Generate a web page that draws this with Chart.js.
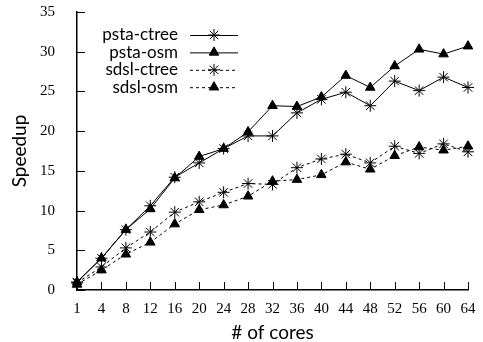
<!DOCTYPE html>
<html>
<head>
<meta charset="utf-8">
<script src="https://cdn.jsdelivr.net/npm/chart.js@4/dist/chart.umd.min.js"></script>
<style>
    html, body { margin: 0; padding: 0; background: #fff; }
    #wrap { width: 483px; height: 342px; }
</style>
</head>
<body>
<div id="wrap"><canvas id="speedupChart" width="483" height="342"></canvas></div>
<script>
const cores = ['1', '4', '8', '12', '16', '20', '24', '28', '32', '36', '40', '44', '48', '52', '56', '60', '64'];
const pstaCtree = [1.0, 4.0, 7.6, 10.6, 14.2, 16.0, 17.8, 19.4, 19.4, 22.3, 24.0, 24.9, 23.2, 26.3, 25.1, 26.8, 25.5];
const pstaOsm = [1.0, 4.0, 7.6, 10.2, 14.1, 16.8, 17.8, 19.9, 23.2, 23.1, 24.3, 27.0, 25.5, 28.2, 30.3, 29.7, 30.7];
const sdslCtree = [0.9, 2.9, 5.3, 7.3, 9.8, 11.1, 12.3, 13.4, 13.3, 15.4, 16.5, 17.1, 16.0, 18.1, 17.2, 18.4, 17.4];
const sdslOsm = [0.7, 2.5, 4.5, 6.0, 8.3, 10.1, 10.7, 11.8, 13.7, 13.9, 14.5, 16.1, 15.2, 16.9, 18.0, 17.6, 18.1];
const yTicks = [0, 5, 10, 15, 20, 25, 30, 35];

const serif = '"Liberation Serif", "Times New Roman", serif';
const sans = 'Lato, "Open Sans", sans-serif';

// tick marks drawn on the inside of the axes
const inwardTicks = {
    id: 'inwardTicks',
    beforeDatasetsDraw(chart) {
        const { ctx, chartArea, scales: { x, y } } = chart;
        ctx.save();
        ctx.strokeStyle = '#000';
        ctx.lineWidth = 1;
        ctx.beginPath();
        x.ticks.forEach((_t, i) => {
            const px = Math.round(x.getPixelForTick(i)) + 0.5;
            ctx.moveTo(px, chartArea.bottom);
            ctx.lineTo(px, chartArea.bottom - 8);
        });
        y.ticks.forEach((_t, i) => {
            const py = Math.round(y.getPixelForTick(i)) + 0.5;
            ctx.moveTo(chartArea.left, py);
            ctx.lineTo(chartArea.left + 8, py);
        });
        ctx.stroke();
        ctx.restore();
    }
};

// gnuplot-like key: label on the left, line sample on the right
const keyPlugin = {
    id: 'keyPlugin',
    afterDatasetsDraw(chart) {
        const { ctx, chartArea } = chart;
        const textRight = chartArea.left + 101;
        ctx.save();
        ctx.font = '17px ' + sans;
        ctx.textAlign = 'right';
        ctx.textBaseline = 'middle';
        chart.data.datasets.forEach((ds, i) => {
            const yPos = chartArea.top + 23 + i * 17.4;
            ctx.fillStyle = '#000';
            ctx.fillText(ds.label, textRight, yPos);
            ctx.strokeStyle = '#000';
            ctx.lineWidth = 1;
            ctx.setLineDash(ds.borderDash || []);
            ctx.beginPath();
            ctx.moveTo(textRight + 12, yPos + 0.5);
            ctx.lineTo(textRight + 60, yPos + 0.5);
            ctx.stroke();
            ctx.setLineDash([]);
            Chart.helpers.drawPoint(ctx, {
                pointStyle: ds.pointStyle,
                radius: ds.pointRadius,
                borderWidth: 1,
                rotation: 0
            }, textRight + 36, yPos);
        });
        ctx.restore();
    }
};

const makeSet = (label, data, style, dashed) => ({
    label,
    data,
    borderColor: '#000',
    backgroundColor: '#000',
    borderWidth: 1,
    borderDash: dashed ? [3, 3] : [],
    pointStyle: style,
    pointRadius: style === 'star' ? 6 : 5.5,
    pointBorderWidth: 1,
    pointBackgroundColor: '#000',
    pointBorderColor: '#000',
    tension: 0,
    fill: false
});

new Chart(document.getElementById('speedupChart'), {
    type: 'line',
    data: {
        labels: cores,
        datasets: [
            makeSet('psta-ctree', pstaCtree, 'star', false),
            makeSet('psta-osm', pstaOsm, 'triangle', false),
            makeSet('sdsl-ctree', sdslCtree, 'star', true),
            makeSet('sdsl-osm', sdslOsm, 'triangle', true)
        ]
    },
    options: {
        responsive: false,
        animation: false,
        layout: { autoPadding: false, padding: { top: 12, right: 15, left: 0, bottom: 0 } },
        plugins: {
            legend: { display: false },
            tooltip: { enabled: false }
        },
        scales: {
            x: {
                type: 'category',
                offset: false,
                grid: { display: false },
                border: { display: true, color: '#000', width: 1.5 },
                ticks: {
                    color: '#000',
                    font: { family: serif, size: 15 },
                    padding: 2,
                    maxRotation: 0,
                    autoSkip: false
                },
                title: {
                    display: true,
                    text: '# of cores',
                    color: '#000',
                    font: { family: sans, size: 19 },
                    padding: { top: 0, bottom: -2 }
                },
                afterFit: scale => {
                    scale.height = 52;
                    scale.paddingLeft = 0;
                    scale.paddingRight = 0;
                }
            },
            y: {
                min: 0,
                max: 35,
                grid: { display: false },
                border: { display: true, color: '#000', width: 1.5 },
                afterBuildTicks: scale => {
                    scale.ticks = yTicks.map(v => ({ value: v }));
                },
                ticks: {
                    color: '#000',
                    font: { family: serif, size: 15 },
                    padding: 14
                },
                title: {
                    display: true,
                    text: 'Speedup',
                    color: '#000',
                    font: { family: sans, size: 19 },
                    padding: { top: 8, bottom: 0 }
                },
                afterFit: scale => {
                    scale.width = 77;
                    scale.paddingTop = 0;
                    scale.paddingBottom = 0;
                }
            }
        }
    },
    plugins: [inwardTicks, keyPlugin]
});
</script>
</body>
</html>
